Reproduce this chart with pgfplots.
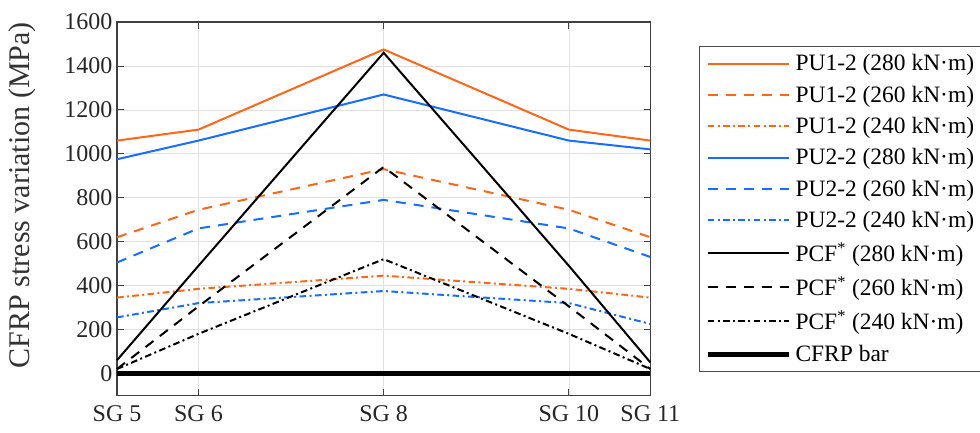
\documentclass[border=0pt]{standalone}
\usepackage{fontspec}
\setmainfont{Liberation Serif}
\usepackage{pgfplots}
\pgfplotsset{compat=1.18}
\definecolor{myorange}{RGB}{255,102,20}
\definecolor{myblue}{RGB}{20,110,255}
\begin{document}
\begin{tikzpicture}
\begin{axis}[
  width=400pt, height=280pt, scale only axis,
  xmin=0, xmax=1440, ymin=-100, ymax=1600,
  xtick={0,220,720,1220,1440},
  xticklabels={SG 5,SG 6,SG 8,SG 10,SG 11},
  ytick={0,200,...,1600},
  /pgf/number format/assume math mode=true,
  /pgf/number format/1000 sep={},
  tick label style={font=\fontsize{18}{20}\selectfont, color=black!85},
  xticklabel style={yshift=-4pt},
  ylabel={CFRP stress variation (MPa)},
  ylabel style={font=\fontsize{22.5}{24}\selectfont, color=black!80, at={(axis description cs:-0.1775,0.536)}, anchor=center},
  grid=major, major grid style={black!12, line width=0.5pt},
  tick align=inside, tick pos=both, major tick length=5pt,
  axis line style={black!75, line width=0.8pt},
  every tick/.style={black!75, line width=0.6pt},
  legend style={at={(axis description cs:1.092,0.9357)}, anchor=north west,
    draw=black!70, line width=0.6pt, fill=white, cells={anchor=west},
    font=\fontsize{17.6}{20}\selectfont, row sep=5.8pt, inner xsep=4pt, inner ysep=4pt,
    nodes={inner xsep=3pt}},
  legend image code/.code={\draw[#1] (0pt,0pt) -- (61pt,0pt);},
  clip=false,
]
\addplot[myorange, line width=1.5pt] coordinates {(0,1060) (220,1110) (720,1475) (1220,1110) (1440,1060)};
\addlegendentry{PU1-2 (280 kN·m)}
\addplot[myorange, line width=1.5pt, dash pattern=on 7.5pt off 6pt] coordinates {(0,620) (220,745) (720,930) (1220,745) (1440,620)};
\addlegendentry{PU1-2 (260 kN·m)}
\addplot[myorange, line width=1.5pt, dash pattern=on 5pt off 2.5pt on 1.5pt off 2.5pt] coordinates {(0,345) (220,385) (720,445) (1220,385) (1440,345)};
\addlegendentry{PU1-2 (240 kN·m)}
\addplot[myblue, line width=1.5pt] coordinates {(0,975) (220,1060) (720,1270) (1220,1060) (1440,1020)};
\addlegendentry{PU2-2 (280 kN·m)}
\addplot[myblue, line width=1.5pt, dash pattern=on 7.5pt off 6pt] coordinates {(0,505) (220,660) (720,790) (1220,660) (1440,530)};
\addlegendentry{PU2-2 (260 kN·m)}
\addplot[myblue, line width=1.5pt, dash pattern=on 5pt off 2.5pt on 1.5pt off 2.5pt] coordinates {(0,255) (220,320) (720,375) (1220,320) (1440,225)};
\addlegendentry{PU2-2 (240 kN·m)}
\addplot[black, line width=1.5pt] coordinates {(0,60) (220,490) (720,1460) (1220,490) (1440,50)};
\addlegendentry{PCF\textsuperscript{*} (280 kN·m)}
\addplot[black, line width=1.5pt, dash pattern=on 7.5pt off 6pt] coordinates {(0,20) (220,305) (720,940) (1220,305) (1440,20)};
\addlegendentry{PCF\textsuperscript{*} (260 kN·m)}
\addplot[black, line width=1.5pt, dash pattern=on 5pt off 2.5pt on 1.5pt off 2.5pt] coordinates {(0,20) (220,180) (720,520) (1220,180) (1440,20)};
\addlegendentry{PCF\textsuperscript{*} (240 kN·m)}
\addplot[black, line width=3.8pt] coordinates {(0,0) (220,0) (720,0) (1220,0) (1440,0)};
\addlegendentry{CFRP bar}
\end{axis}
\pgfresetboundingbox
\useasboundingbox (-87.75pt,-27.75pt) rectangle (647.25pt,296.5pt);
\end{tikzpicture}
\end{document}
